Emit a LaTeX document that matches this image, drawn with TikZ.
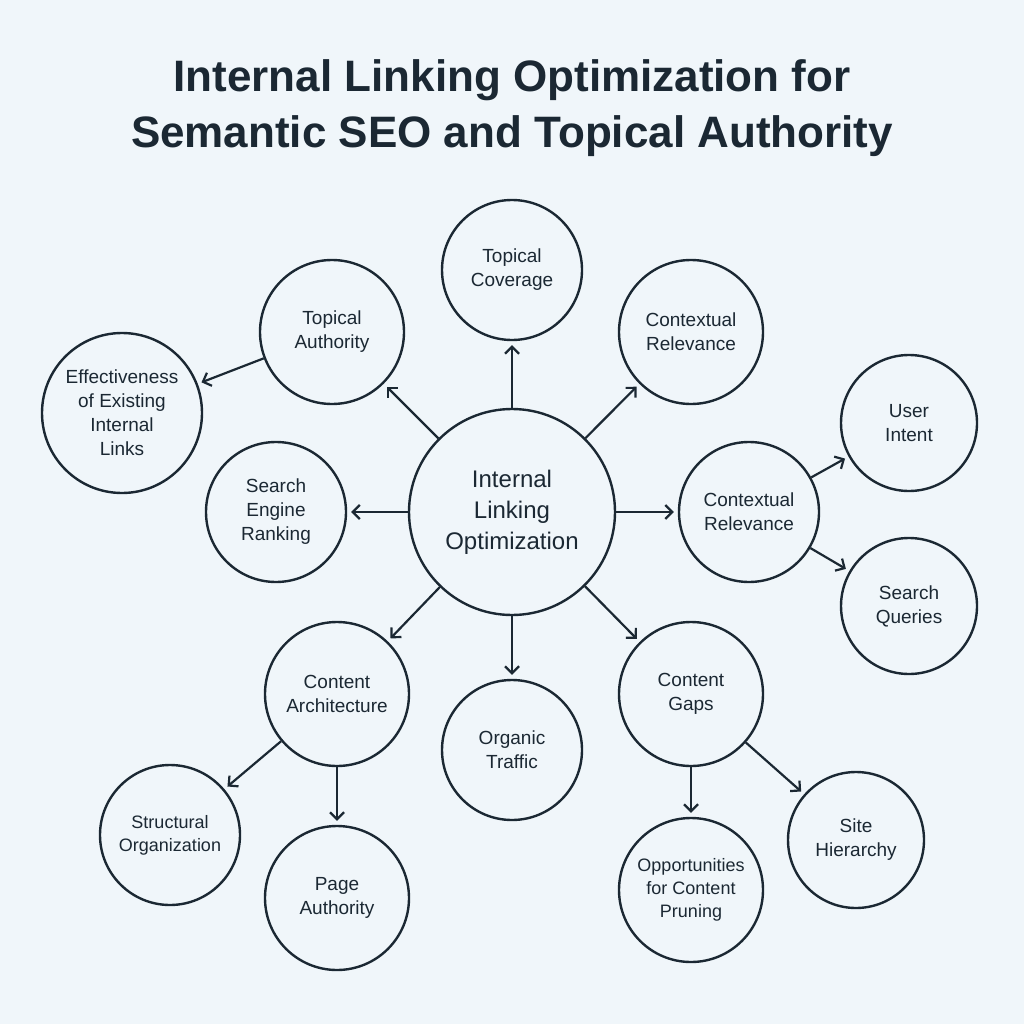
\documentclass[tikz,border=0pt]{standalone}
\usepackage{fontspec}
\setmainfont{Liberation Sans}
\usetikzlibrary{arrows.meta}
\definecolor{ink}{HTML}{1B2833}
\definecolor{bg}{HTML}{F0F6FA}
\begin{document}
\begin{tikzpicture}[x=1pt,y=-1pt,
  bub/.style={circle,draw=ink,line width=2.4pt,fill=bg,text=ink,align=center,inner sep=0pt,font=\fontsize{19}{24}\selectfont},
  arr/.style={-{Straight Barb[length=7pt,width=14pt,line width=2.2pt]},draw=ink,line width=2.2pt,shorten >=4pt}]
\path[fill=bg] (0,0) rectangle (1024,1024);
\useasboundingbox (0,0) rectangle (1024,1024);
\node[text=ink,align=center,font=\bfseries\fontsize{44}{56}\selectfont] (title) at (512,108) {Internal Linking Optimization for\\Semantic SEO and Topical Authority};
\node[bub,minimum size=206pt,font=\fontsize{24}{31}\selectfont] (c) at (512,512) {Internal\\Linking\\Optimization};
\node[bub,minimum size=140pt] (tc) at (512,270) {Topical\\Coverage};
\node[bub,minimum size=144pt] (ta) at (332,332) {Topical\\Authority};
\node[bub,minimum size=144pt] (cr1) at (691,332) {Contextual\\Relevance};
\node[bub,minimum size=160pt] (ef) at (122,413) {Effectiveness\\of Existing\\Internal\\Links};
\node[bub,minimum size=140pt] (se) at (276,512) {Search\\Engine\\Ranking};
\node[bub,minimum size=140pt] (cr2) at (749,512) {Contextual\\Relevance};
\node[bub,minimum size=136pt] (ui) at (909,423) {User\\Intent};
\node[bub,minimum size=136pt] (sq) at (909,606) {Search\\Queries};
\node[bub,minimum size=144pt] (ca) at (337,694) {Content\\Architecture};
\node[bub,minimum size=140pt] (ot) at (512,750) {Organic\\Traffic};
\node[bub,minimum size=144pt] (cg) at (691,694) {Content\\Gaps};
\node[bub,minimum size=140pt,font=\fontsize{18}{23}\selectfont] (so) at (170,835) {Structural\\Organization};
\node[bub,minimum size=144pt] (pa) at (337,898) {Page\\Authority};
\node[bub,minimum size=144pt,font=\fontsize{18}{23}\selectfont] (op) at (691,890) {Opportunities\\for Content\\Pruning};
\node[bub,minimum size=136pt] (sh) at (856,840) {Site\\Hierarchy};
\foreach \t in {tc,ta,cr1,se,cr2,ca,ot,cg} \draw[arr] (c) -- (\t);
\draw[arr] (ta) -- (ef);
\draw[arr] (cr2) -- (ui);
\draw[arr] (cr2) -- (sq);
\draw[arr] (ca) -- (so);
\draw[arr] (ca) -- (pa);
\draw[arr] (cg) -- (op);
\draw[arr] (cg) -- (sh);
\end{tikzpicture}
\end{document}
